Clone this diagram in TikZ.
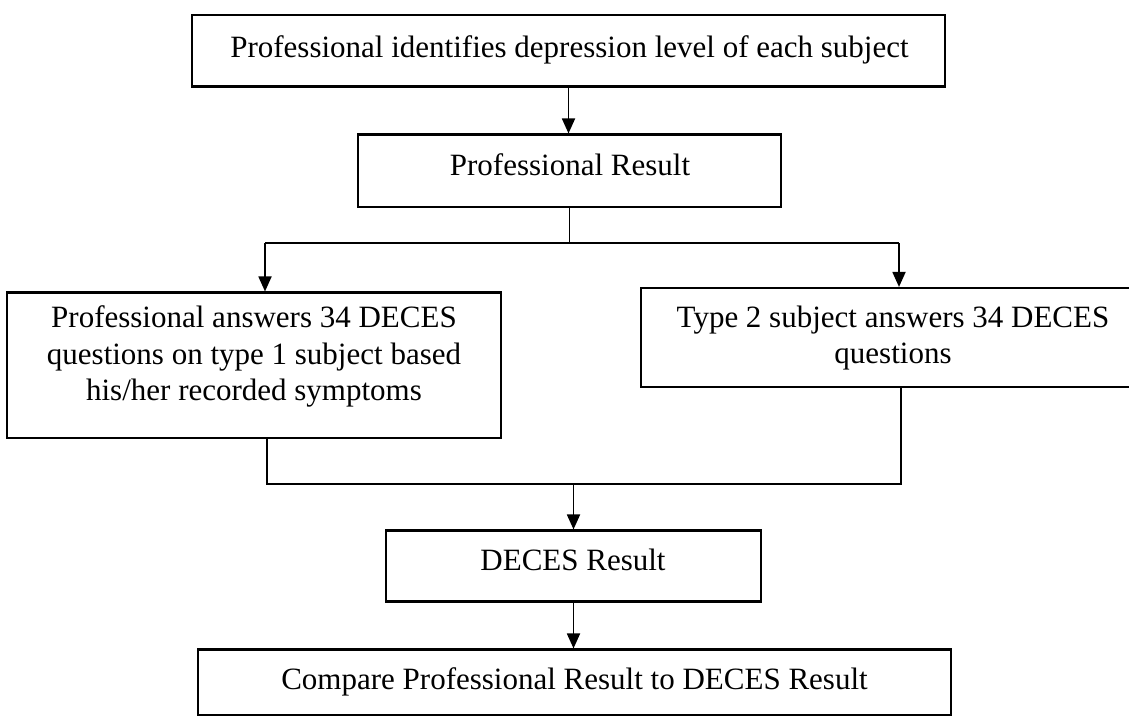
\documentclass[tikz,border=0pt]{standalone}
\usepackage{fontspec}
\setmainfont{Liberation Serif}
\usetikzlibrary{arrows.meta}
\begin{document}
\begin{tikzpicture}[x=1pt,y=-1pt,
  box/.style={draw, line width=2.1pt, inner sep=0pt},
  txt/.style={inner sep=0pt, align=center, font=\fontsize{31}{36.5}\selectfont},
  link/.style={line width=1.8pt},
  arr/.style={link, -{Triangle[length=15pt,width=13pt]}}]
\useasboundingbox (0,0) rectangle (1129,718);
\clip (0,0) rectangle (1129,718);

% boxes (centre, width, height in pt)
\node[box, minimum width=753pt, minimum height=71.5pt] (b1) at (568.5,50.75) {};
\node[box, minimum width=423pt, minimum height=72.5pt] (b2) at (569.5,170.75) {};
\node[box, minimum width=494pt, minimum height=145.5pt] (b3) at (254,365.25) {};
\node[box, minimum width=504pt, minimum height=99pt]   (b4) at (893,337.5) {};
\node[box, minimum width=375pt, minimum height=71pt]   (b5) at (573.5,566) {};
\node[box, minimum width=753pt, minimum height=65.5pt] (b6) at (574.5,682.25) {};

% texts
\node[txt, anchor=base] (t1) at (569.5,57) {Professional identifies depression level of each subject};
\node[txt, anchor=base] (t2) at (570,175.5) {Professional Result};
\node[txt] (t3) at (254,356.5) {Professional answers 34 DECES\\questions on type 1 subject based\\his/her recorded symptoms};
\node[txt] (t4) at (893,338) {Type 2 subject answers 34 DECES\\questions};
\node[txt, anchor=base] (t5) at (573,570) {DECES Result};
\node[txt, anchor=base] (t6) at (574.5,689) {Compare Professional Result to DECES Result};

% split and merge points
\coordinate (sl) at (265,243);
\coordinate (sr) at (899,243);
\coordinate (ml) at (267,484);
\coordinate (mr) at (901,484);

% connectors
\draw[arr] (b1.south) -- (b1.south |- b2.north);
\draw[link] (b2.south) -- (b2.south |- sl);
\draw[link] (sl) -- (sr);
\draw[arr] (sl) -- (sl |- b3.north);
\draw[arr] (sr) -- (sr |- b4.north);
\draw[link] (ml |- b3.south) -- (ml) -- (mr) -- (mr |- b4.south);
\draw[arr] (b5.north |- ml) -- (b5.north);
\draw[arr] (b5.south) -- (b5.south |- b6.north);
\end{tikzpicture}
\end{document}
